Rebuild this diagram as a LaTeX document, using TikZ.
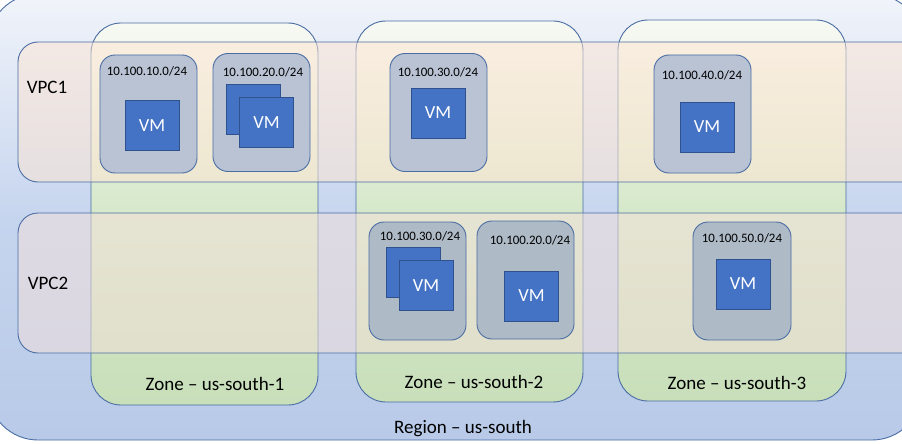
\documentclass[tikz,border=0pt]{standalone}
\usepackage{fontspec}
\setmainfont{Carlito}
\definecolor{edge}{HTML}{4A6DA4}
\definecolor{vmfill}{HTML}{4472C4}
\definecolor{vmedge}{HTML}{2F528F}
\definecolor{rtop}{HTML}{F1F4FA}\definecolor{rmid}{HTML}{C6D5EE}\definecolor{rbot}{HTML}{B8CAE8}
\definecolor{ztop}{HTML}{F7F9F3}\definecolor{zmid}{HTML}{D6E8CA}\definecolor{zbot}{HTML}{C8DFBA}
\definecolor{vpcA}{HTML}{FFE5D2}\definecolor{vpcB}{HTML}{F6E0DA}
\definecolor{snA}{HTML}{B9C3D4}\definecolor{snB}{HTML}{AEBAC6}
\begin{document}
\begin{tikzpicture}[x=1pt,y=-1pt,
  box/.style={rectangle,inner sep=0pt,draw=edge,line width=0.9pt},
  regionbox/.style={box,rounded corners=50pt,top color=rtop,bottom color=rbot,middle color=rmid},
  zonebox/.style={box,rounded corners=30pt,minimum width=227pt,minimum height=381pt,top color=ztop,bottom color=zbot,middle color=zmid},
  vpcbox/.style={box,rounded corners=20pt,minimum width=912pt,minimum height=140pt,fill opacity=0.5},
  subnetbox/.style={box,rounded corners=15pt,minimum width=97pt,minimum height=118pt},
  vmbox/.style={rectangle,draw=vmedge,line width=0.8pt,fill=vmfill,minimum width=54pt,minimum height=50pt,inner sep=0pt,text=white,font=\fontsize{18.5}{20}\selectfont},
  biglabel/.style={inner sep=0pt,font=\fontsize{19}{21}\selectfont,text=black},
  netlabel/.style={inner sep=0pt,font=\fontsize{12.9}{14}\selectfont,text=black}
]
\useasboundingbox (0,0) rectangle (902,444);
% region
\node[regionbox,minimum width=934pt,minimum height=446pt] (region) at (455,217) {};
% zones
\node[zonebox,minimum height=382pt] (zone1) at (204.5,214) {};
\node[zonebox] (zone2) at (469.5,211.5) {};
\node[zonebox,minimum width=228pt] (zone3) at (732,210.5) {};
% vpcs
\node[vpcbox,fill=vpcA] (vpc1) at (474,112) {};
\node[vpcbox,fill=vpcB] (vpc2) at (474,283) {};
% subnets
\node[subnetbox,fill=snA] (s1) at (148.5,114) {};
\node[subnetbox,fill=snA] (s2) at (261.5,112.5) {};
\node[subnetbox,fill=snA] (s3) at (438.5,112.5) {};
\node[subnetbox,fill=snA] (s4) at (702.5,114) {};
\node[subnetbox,fill=snB] (s5) at (417.5,281) {};
\node[subnetbox,fill=snB] (s6) at (525.5,280) {};
\node[subnetbox,fill=snB,minimum width=98pt] (s7) at (742,281) {};
% subnet labels
\node[netlabel] (l1) at (147,71) {10.100.10.0/24};
\node[netlabel] (l2) at (263,72) {10.100.20.0/24};
\node[netlabel] (l3) at (438,72) {10.100.30.0/24};
\node[netlabel] (l4) at (702,75) {10.100.40.0/24};
\node[netlabel] (l5) at (420,236) {10.100.30.0/24};
\node[netlabel] (l6) at (530,240) {10.100.20.0/24};
\node[netlabel] (l7) at (742,238) {10.100.50.0/24};
% VMs
\node[vmbox] (vm1) at (152,125.5) {VM};
\node[vmbox] (vm2b) at (253,109.5) {};
\node[vmbox] (vm2) at (266.5,122.5) {VM};
\node[vmbox] (vm3) at (438,113) {VM};
\node[vmbox] (vm4) at (707,127) {VM};
\node[vmbox] (vm5b) at (413,272) {};
\node[vmbox] (vm5) at (426,285.5) {VM};
\node[vmbox] (vm6) at (531.5,296) {VM};
\node[vmbox] (vm7) at (743,284) {VM};
% big labels
\node[biglabel] (vpc1l) at (47,87) {VPC1};
\node[biglabel] (vpc2l) at (48,283) {VPC2};
\node[biglabel] (z1l) at (215,384) {Zone – us-south-1};
\node[biglabel] (z2l) at (474,382) {Zone – us-south-2};
\node[biglabel] (z3l) at (737,383) {Zone – us-south-3};
\node[biglabel] (rl) at (463,429) {Region – us-south};
\end{tikzpicture}
\end{document}
